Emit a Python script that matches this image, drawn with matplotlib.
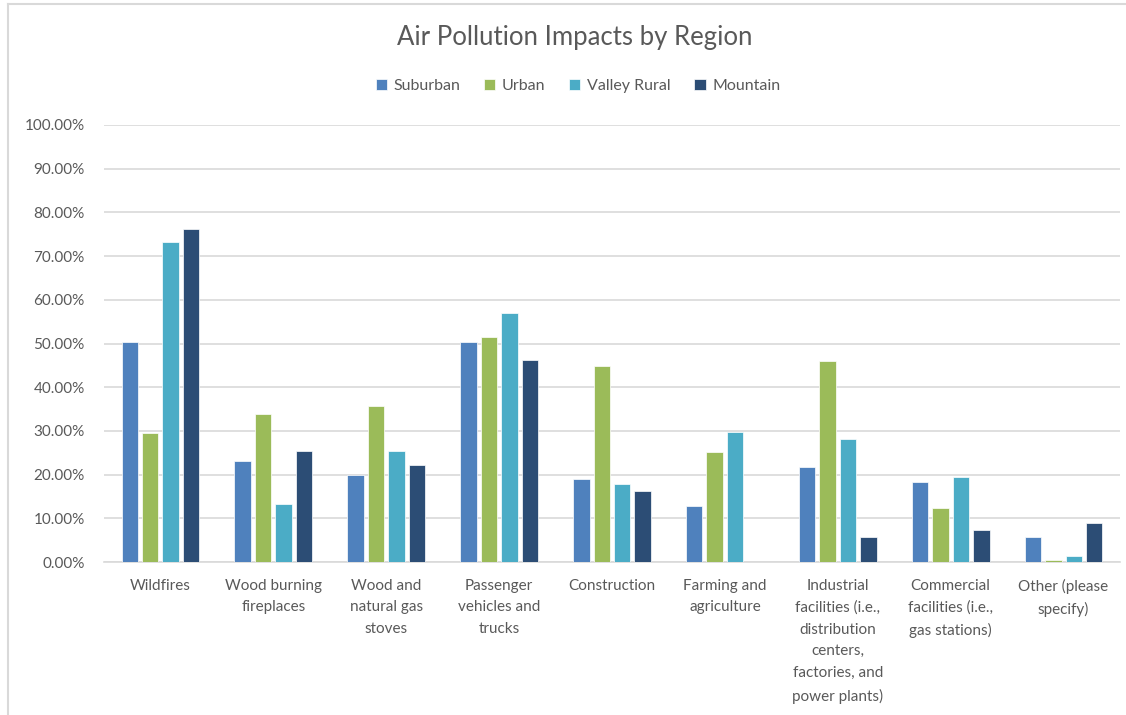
import matplotlib
matplotlib.use("Agg")
import matplotlib.pyplot as plt
from matplotlib.lines import Line2D
from matplotlib.ticker import PercentFormatter
import numpy as np

TXT, GRID = "#595959", "#d9d9d9"
plt.rcParams.update({"font.family": ["Lato", "DejaVu Sans"], "text.color": TXT})

categories = ["Wildfires", "Wood burning\nfireplaces", "Wood and\nnatural gas\nstoves",
              "Passenger\nvehicles and\ntrucks", "Construction", "Farming and\nagriculture",
              "Industrial\nfacilities (i.e.,\ndistribution\ncenters,\nfactories, and\npower plants)",
              "Commercial\nfacilities (i.e.,\ngas stations)", "Other (please\nspecify)"]
series = ["Suburban", "Urban", "Valley Rural", "Mountain"]
suburban = [50.3, 23.0, 20.0, 50.3, 18.9, 12.9, 21.7, 18.2, 5.8]
urban = [29.6, 33.9, 35.8, 51.5, 44.8, 25.1, 46.0, 12.4, 0.5]
valley = [73.2, 13.3, 25.4, 56.9, 17.8, 29.8, 28.2, 19.4, 1.3]
mountain = [76.2, 25.4, 22.2, 46.2, 16.2, 0.0, 5.8, 7.4, 9.0]
colors = ["#4f81bd", "#9bbb59", "#4bacc6", "#2c4d75"]

fig = plt.figure(figsize=(11.26, 7.15), dpi=100)
ax = fig.add_axes([104 / 1126, 1 - 562 / 715, 1016 / 1126, 437 / 715])

x = np.arange(len(categories))
w, step = 0.145, 0.181
for i, (vals, c, lab) in enumerate(zip([suburban, urban, valley, mountain], colors, series)):
    ax.bar(x + (i - 1.5) * step, vals, w, color=c, edgecolor="white", lw=0.5,
           label=lab, zorder=3)

ax.set_xlim(-0.5, len(categories) - 0.5)
ax.set_ylim(0, 100)
ax.set_yticks(np.arange(0, 101, 10))
ax.yaxis.set_major_formatter(PercentFormatter(decimals=2))
ax.set_xticks(x)
ax.set_xticklabels(categories, fontsize=11, color=TXT, linespacing=1.7)
ax.tick_params(axis="y", labelsize=11, labelcolor=TXT, length=0, pad=14)
ax.tick_params(axis="x", length=0, pad=12)
ax.yaxis.grid(True, color=GRID, lw=1.2)
ax.set_axisbelow(True)
for s in ["top", "right", "left"]:
    ax.spines[s].set_visible(False)
ax.spines["bottom"].set_color(GRID)
ax.spines["bottom"].set_linewidth(1.2)

fig.text(575 / 1126, 1 - 38 / 715, "Air Pollution Impacts by Region",
         ha="center", va="center", fontsize=18.5, color=TXT)
fig.legend(loc="center", bbox_to_anchor=(578 / 1126, 1 - 86 / 715), ncol=4,
           frameon=False, fontsize=11.5, handlelength=0.7, handleheight=0.7,
           handletextpad=0.4, columnspacing=1.5, labelcolor=TXT)

# chart border (top and left edges visible in the crop)
fig.add_artist(Line2D([8 / 1126, 1], [1 - 4 / 715, 1 - 4 / 715], color=GRID, lw=1.5,
                      transform=fig.transFigure))
fig.add_artist(Line2D([8 / 1126, 8 / 1126], [0, 1 - 4 / 715], color=GRID, lw=1.5,
                      transform=fig.transFigure))

fig.savefig("out.png", dpi=100, facecolor="white")
